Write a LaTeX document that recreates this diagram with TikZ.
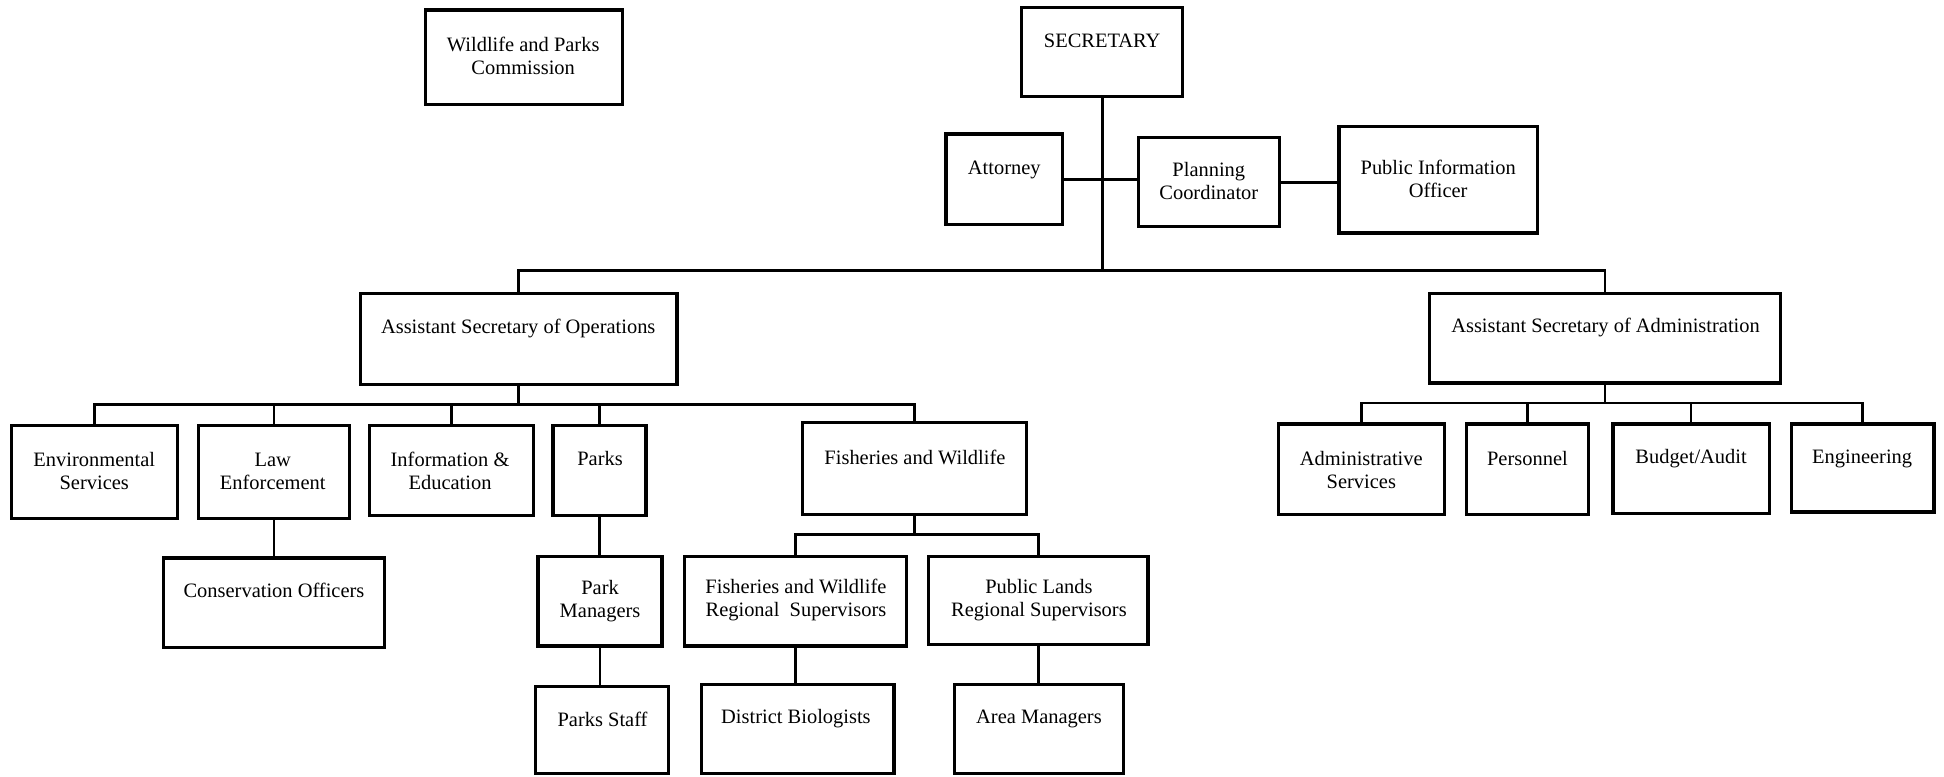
\documentclass[tikz,border=0pt]{standalone}
\usepackage{fontspec}
\setmainfont{Liberation Serif}
\tikzset{
  bx/.style={draw, line width=2.6pt, inner sep=0pt},
  lbl/.style={font=\fontsize{16.5}{18.5}\selectfont, align=center, inner sep=0pt},
  ln/.style={line width=2.2pt}
}
\newcommand\obox[5]{\node[bx, minimum width={#4pt-#2pt}, minimum height={#5pt-#3pt}] (#1) at ({(#2+#4)/2},{(#3+#5)/2}) {};}
\begin{document}
\begin{tikzpicture}[x=1pt,y=-1pt]
\useasboundingbox (0,0) rectangle (1568,626);
% boxes
\obox{com}{343}{8}{502}{84}
\obox{sec}{824}{6}{954}{78}
\obox{att}{763}{108}{857}{181}
\obox{pc}{918}{111}{1032}{183}
\obox{pio}{1080}{102}{1240}{188}
\obox{asops}{291}{237}{546}{310}
\obox{asadm}{1153}{237}{1436}{309}
\obox{env}{9}{343}{143}{418}
\obox{law}{160}{343}{282}{418}
\obox{info}{298}{343}{430}{416}
\obox{parks}{446}{343}{521}{416}
\obox{fw}{647}{341}{828}{415}
\obox{adm}{1031}{342}{1165}{415}
\obox{pers}{1183}{342}{1281}{415}
\obox{bud}{1301}{342}{1427}{414}
\obox{eng}{1445}{342}{1560}{413}
\obox{cons}{132}{450}{310}{522}
\obox{pm}{434}{449}{534}{521}
\obox{ps}{432}{554}{539}{624}
\obox{fwrs}{552}{449}{731}{521}
\obox{plrs}{749}{449}{926}{520}
\obox{db}{566}{552}{721}{624}
\obox{am}{770}{552}{906}{624}
% labels
\node[lbl] (t-com) at (422,45) {Wildlife and Parks\\Commission};
\node[lbl] (t-sec) at (889,33) {SECRETARY};
\node[lbl] (t-att) at (810,137) {Attorney};
\node[lbl] (t-pc) at (975,146) {Planning\\Coordinator};
\node[lbl] (t-pio) at (1160,144) {Public Information\\Officer};
\node[lbl] (t-asops) at (418,265) {Assistant Secretary of Operations};
\node[lbl] (t-asadm) at (1295,264) {Assistant Secretary of Administration};
\node[lbl] (t-env) at (76,380) {Environmental\\Services};
\node[lbl] (t-law) at (220,380) {Law\\Enforcement};
\node[lbl] (t-info) at (363,380) {Information \&\\Education};
\node[lbl] (t-parks) at (484,370) {Parks};
\node[lbl] (t-fw) at (738,369) {Fisheries and Wildlife};
\node[lbl] (t-adm) at (1098,379) {Administrative\\Services};
\node[lbl] (t-pers) at (1232,370) {Personnel};
\node[lbl] (t-bud) at (1364,370) {Budget/Audit};
\node[lbl] (t-eng) at (1502,370) {Engineering};
\node[lbl] (t-cons) at (221,476) {Conservation Officers};
\node[lbl] (t-pm) at (484,485) {Park\\Managers};
\node[lbl] (t-ps) at (486,580) {Parks Staff};
\node[lbl] (t-fwrs) at (642,484) {Fisheries and Wildlife\\Regional\ \ Supervisors};
\node[lbl] (t-plrs) at (838,484) {Public Lands\\Regional Supervisors};
\node[lbl] (t-db) at (642,580) {District Biologists};
\node[lbl] (t-am) at (838,580) {Area Managers};
% connectors
\coordinate (topbar) at (890,218);
\coordinate (opsbar) at (417,326);
\coordinate (admbar) at (1294,325);
\coordinate (fwbar) at (738,431);
\draw[ln] (sec.south) -- (sec.south |- topbar);
\draw[ln] (att.east) -- (att.east -| pc.west);
\draw[ln] (pc.east) -- (pc.east -| pio.west);
\draw[ln] (asops.north) |- (topbar) -| (asadm.north);
\draw[ln] (asops.south) -- (asops.south |- opsbar);
\draw[ln] (env.north) |- (opsbar) -| (fw.north);
\draw[ln] (law.north) -- (law.north |- opsbar);
\draw[ln] (info.north) -- (info.north |- opsbar);
\draw[ln] (parks.north) -- (parks.north |- opsbar);
\draw[ln] (asadm.south) -- (asadm.south |- admbar);
\draw[ln] (adm.north) |- (admbar) -| (eng.north);
\draw[ln] (pers.north) -- (pers.north |- admbar);
\draw[ln] (bud.north) -- (bud.north |- admbar);
\draw[ln] (law.south) -- (law.south |- cons.north);
\draw[ln] (parks.south) -- (parks.south |- pm.north);
\draw[ln] (pm.south) -- (pm.south |- ps.north);
\draw[ln] (fw.south) -- (fw.south |- fwbar);
\draw[ln] (fwrs.north) |- (fwbar) -| (plrs.north);
\draw[ln] (fwrs.south) -- (fwrs.south |- db.north);
\draw[ln] (plrs.south) -- (plrs.south |- am.north);
\end{tikzpicture}
\end{document}
